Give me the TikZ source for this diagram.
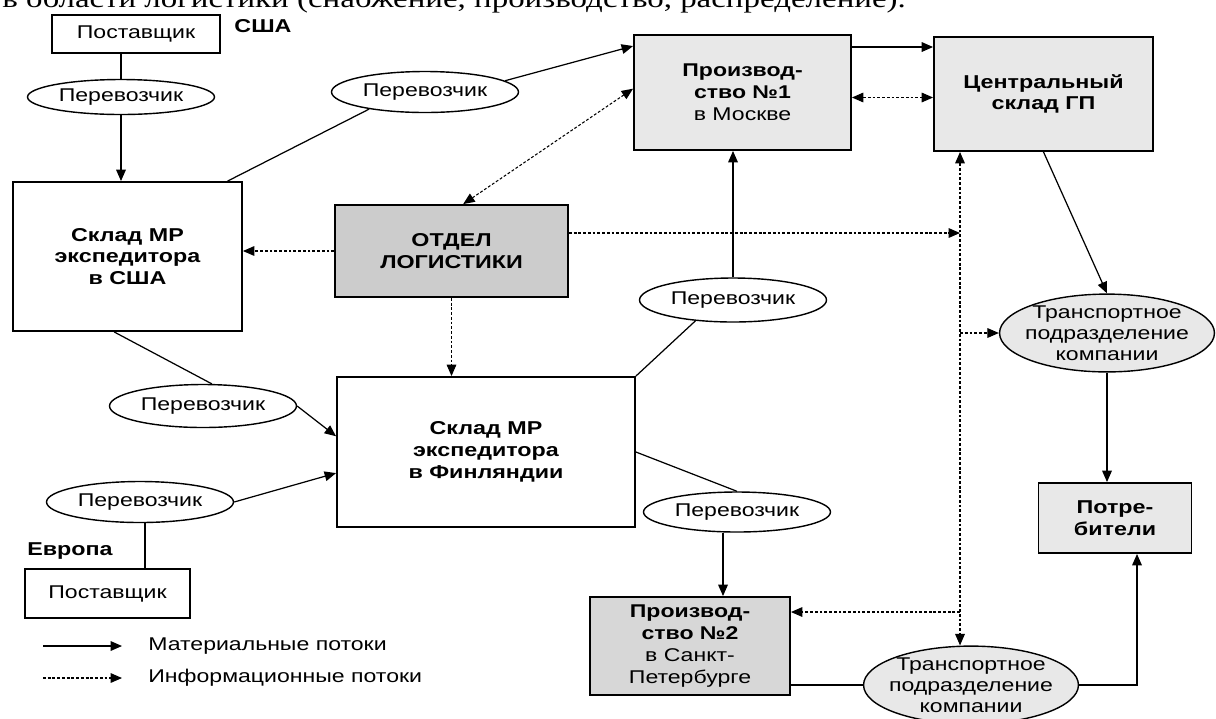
\documentclass[tikz,border=0pt]{standalone}
\usepackage{fontspec}
\setmainfont{Liberation Sans}[FakeStretch=1.25]
\newfontfamily\cutserif{Liberation Serif}[FakeStretch=1.25]
\definecolor{stipple}{gray}{0.91}
\definecolor{stippledark}{gray}{0.8}
\usetikzlibrary{arrows.meta,positioning,shapes.geometric}

\begin{document}
\begin{tikzpicture}[x=0.02cm,y=-0.02cm,
      font=\fontsize{10.5}{12.4}\selectfont,
      >={Triangle[length=6.5pt,width=5.5pt]},
      wbox/.style={draw,line width=1.1pt,align=center,inner sep=2pt},
      gbox/.style={wbox,fill=stipple},
      tag/.style={font=\fontsize{10.6}{12.4}\selectfont\bfseries},
      carrier/.style={draw,ellipse,line width=0.8pt,inner sep=0pt,
            minimum width=3.74cm,minimum height=0.82cm},
      tdiv/.style={draw,ellipse,line width=0.8pt,fill=stipple,align=center,
            font=\fontsize{10.5}{12}\selectfont,inner xsep=-0.12cm,inner ysep=0cm},
      mat/.style={->,line width=0.7pt},
      inf/.style={->,line width=0.6pt,dash pattern=on 1.6pt off 1.1pt},
      plain/.style={line width=0.7pt}]
      \useasboundingbox (0,0) rectangle (1216,718);
      \node[anchor=base west,inner sep=0pt,font=\cutserif\fontsize{15}{16}\selectfont] (intro)
            at (2,7) {в области логистики (снабжение, производство, распределение).};
      \coordinate (bus) at (960,0);

      \node[wbox,minimum width=3.36cm,minimum height=0.76cm] (supus) at (136,34) {Поставщик};
      \node[tag] (usa) at (263,26) {США};
      \node[carrier,minimum height=0.7cm] (car1) at (121,97) {Перевозчик};
      \node[wbox,tag,minimum width=4.58cm,minimum height=2.98cm] (sklus) at (127.5,256.5)
            {Склад МР\\экспедитора\\в США};
      \node[carrier] (car2) at (425,92) {Перевозчик};
      \node[gbox,minimum width=4.34cm,minimum height=2.3cm] (prod1) at (742.5,92.5)
            {\textbf{Производ-}\\\textbf{ство №1}\\в Москве};
      \node[gbox,tag,minimum width=4.38cm,minimum height=2.28cm] (cgp) at (1043.5,94)
            {Центральный\\склад ГП};
      \node[gbox,tag,fill=stippledark,minimum width=4.66cm,minimum height=1.84cm] (logist)
            at (451.5,251) {ОТДЕЛ\\ЛОГИСТИКИ};
      \node[carrier,minimum height=0.88cm] (car3) at (733,300) {Перевозчик};
      \node[tdiv] (tr1) at (1107,333) {Транспортное\\подразделение\\компании};
      \node[carrier,minimum height=0.86cm] (car4) at (203,406) {Перевозчик};
      \node[wbox,tag,minimum width=5.96cm,minimum height=3cm] (sklfin) at (486,452)
            {Склад МР\\экспедитора\\в Финляндии};
      \node[carrier] (car5) at (140,502) {Перевозчик};
      \node[carrier,minimum height=0.8cm] (car6) at (737,512) {Перевозчик};
      \node[gbox,tag,minimum width=3.06cm,minimum height=1.4cm] (cons) at (1115,518)
            {Потре-\\бители};
      \node[tag] (europe) at (70,551) {Европа};
      \node[wbox,minimum width=3.3cm,minimum height=0.98cm] (supeu) at (107.5,593.5) {Поставщик};
      \node[gbox,fill=stippledark!60!stipple,minimum width=4cm,minimum height=1.96cm] (prod2)
            at (690,646) {\textbf{Производ-}\\\textbf{ство №2}\\в Санкт-\\Петербурге};
      \node[tdiv] (tr2) at (971,685) {Транспортное\\подразделение\\компании};

      \draw[plain] (supus.south -| car1.north) -- (car1.north);
      \draw[mat] (car1.south) -- (car1.south |- sklus.north);
      \draw[plain] (sklus.37) -- (car2.197);
      \draw[mat] (car2.8) -- (prod1.157);
      \draw[inf,<->] (prod1.178) -- (logist.76);
      \draw[mat] ([yshift=0.91cm]prod1.east) -- ([yshift=0.91cm]prod1.east -| cgp.west);
      \draw[inf,<->] ([yshift=-0.1cm]prod1.east) -- ([yshift=-0.1cm]prod1.east -| cgp.west);
      \draw[inf] (logist.west) -- (logist.west -| sklus.east);
      \draw[inf] ([yshift=0.36cm]logist.east) -- ([yshift=0.36cm]logist.east -| bus);
      \draw[inf] (logist.south) -- (logist.south |- sklfin.north);
      \draw[mat] (car3.north) -- (car3.north |- prod1.south);
      \draw[plain] (sklfin.north east) -- (car3.209);
      \draw[mat] (cgp.south) -- (tr1.north);
      \draw[mat] (tr1.south) -- (tr1.south |- cons.north);
      \draw[inf,<->] (bus |- cgp.south) -- (bus |- tr2.north);
      \draw[inf] (bus |- tr1.west) -- (tr1.west);
      \draw[inf] ([yshift=0.68cm]prod2.east -| bus) -- ([yshift=0.68cm]prod2.east);
      \draw[plain] (sklus.260) -- (car4.68);
      \draw[mat] (car4.east) -- (sklfin.174);
      \draw[mat] (car5.east) -- (sklfin.188);
      \draw[plain] ([xshift=0.1cm]car5.south) -- ([xshift=0.1cm]car5.south |- supeu.north);
      \draw[plain] (sklfin.east) -- (car6.north);
      \draw[mat] ([xshift=-0.28cm]car6.south) -- ([xshift=-0.28cm]car6.south |- prod2.north);
      \draw[plain] (tr2.west -| prod2.east) -- (tr2.west);
      \draw[mat] (tr2.east) -| ([xshift=0.44cm]cons.south);

      \coordinate (lm1) at (43,646);
      \coordinate (lm2) at (122,646);
      \draw[mat] (lm1) -- (lm2);
      \node[right=0.52cm of lm2,inner sep=0pt] (legmat) {Материальные потоки};
      \coordinate (li1) at (43,678);
      \coordinate (li2) at (122,678);
      \draw[inf] (li1) -- (li2);
      \node[right=0.52cm of li2,inner sep=0pt] (leginf) {Информационные потоки};
\end{tikzpicture}
\end{document}
